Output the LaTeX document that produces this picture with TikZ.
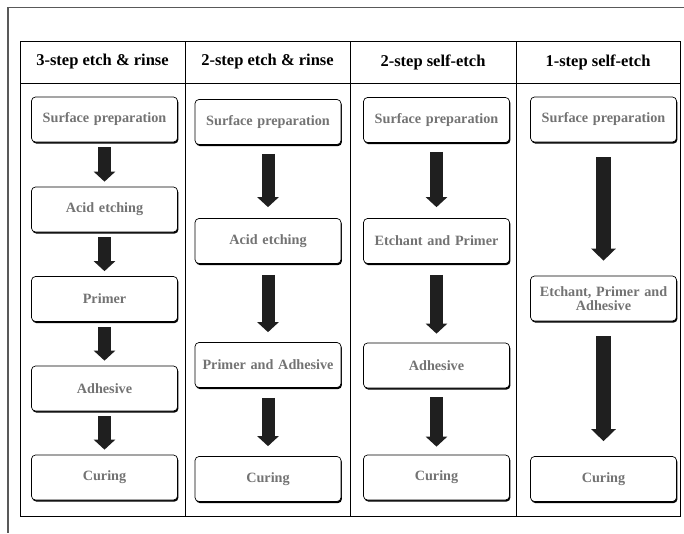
\documentclass[tikz,border=0pt]{standalone}
\usepackage{fontspec}
\setmainfont{Liberation Serif}
\usetikzlibrary{arrows.meta,shadows}
\definecolor{boxtext}{gray}{0.45}
\definecolor{framegray}{gray}{0.35}
\tikzset{
  frameline/.style={draw=framegray,line width=1.3pt},
  tabline/.style={draw=black,line width=0.9pt},
  headtext/.style={font=\fontsize{16.5}{18}\selectfont\bfseries,text=black},
  stepbox/.style={draw=black,line width=0.7pt,fill=white,rounded corners=4pt,
    minimum height=45pt,inner sep=2pt,align=center,text=boxtext,
    font=\fontsize{14.2}{14.5}\selectfont\bfseries,
    drop shadow={shadow xshift=0.9pt,shadow yshift=-1.6pt,fill=black,opacity=1}},
  narrow/.style={minimum width=146pt,text width=142pt},
  blockarrow/.style={line width=13pt,-{Triangle[width=21pt,length=10pt]},draw=black!88},
  bigarrow/.style={line width=15pt,-{Triangle[width=24pt,length=12pt]},draw=black!88}
}
\begin{document}
\begin{tikzpicture}[x=1pt,y=-1pt]
\useasboundingbox (0,0) rectangle (684,533);
% outer frame
\draw[frameline] (684,7.5) -- (8,7.5) -- (8,533);
% table
\draw[tabline] (20,41) rectangle (680,516);
\draw[tabline] (20,83) -- (680,83);
\draw[tabline] (185,41) -- (185,516);
\draw[tabline] (350,41) -- (350,516);
\draw[tabline] (516,41) -- (516,516);
% headers
\node[headtext] (h1) at (102.5,62) {3-step etch \& rinse};
\node[headtext] (h2) at (267.5,62) {2-step etch \& rinse};
\node[headtext] (h3) at (433,62) {2-step self-etch};
\node[headtext] (h4) at (598,62) {1-step self-etch};
% column 1
\node[stepbox,narrow] (a1) at (104.5,119.5) {Surface preparation};
\node[stepbox,narrow] (a2) at (104.5,209.5) {Acid etching};
\node[stepbox,narrow] (a3) at (104.5,299) {Primer};
\node[stepbox,narrow] (a4) at (104.5,388.5) {Adhesive};
\node[stepbox,narrow] (a5) at (104.5,477.5) {Curing};
% column 2
\node[stepbox,narrow] (b1) at (268,122) {Surface preparation};
\node[stepbox,narrow] (b2) at (268,241) {Acid etching};
\node[stepbox,narrow] (b3) at (268,365) {Primer and Adhesive};
\node[stepbox,narrow] (b4) at (268,479) {Curing};
% column 3
\node[stepbox,narrow] (c1) at (436.5,120) {Surface preparation};
\node[stepbox,narrow] (c2) at (436.5,241) {Etchant and Primer};
\node[stepbox,narrow] (c3) at (436.5,365.5) {Adhesive};
\node[stepbox,narrow] (c4) at (436.5,477.5) {Curing};
% column 4
\node[stepbox,narrow] (d1) at (603.5,119.5) {Surface preparation};
\node[stepbox,narrow] (d2) at (603.5,298.5) {Etchant, Primer and\\Adhesive};
\node[stepbox,narrow] (d3) at (603.5,479) {Curing};
% arrows column 1
\draw[blockarrow,shorten <=5pt,shorten >=5pt] (a1) -- (a2);
\draw[blockarrow,shorten <=5pt,shorten >=5pt] (a2) -- (a3);
\draw[blockarrow,shorten <=5pt,shorten >=5pt] (a3) -- (a4);
\draw[blockarrow,shorten <=5pt,shorten >=5pt] (a4) -- (a5);
% arrows column 2
\draw[blockarrow,shorten <=9pt,shorten >=11pt] (b1) -- (b2);
\draw[blockarrow,shorten <=11pt,shorten >=10pt] (b2) -- (b3);
\draw[blockarrow,shorten <=10pt,shorten >=10pt] (b3) -- (b4);
% arrows column 3
\draw[blockarrow,shorten <=9pt,shorten >=11pt] (c1) -- (c2);
\draw[blockarrow,shorten <=11pt,shorten >=9pt] (c2) -- (c3);
\draw[blockarrow,shorten <=9pt,shorten >=8pt] (c3) -- (c4);
% arrows column 4
\draw[bigarrow,shorten <=15pt,shorten >=15pt] (d1) -- (d2);
\draw[bigarrow,shorten <=15pt,shorten >=15pt] (d2) -- (d3);
\end{tikzpicture}
\end{document}
